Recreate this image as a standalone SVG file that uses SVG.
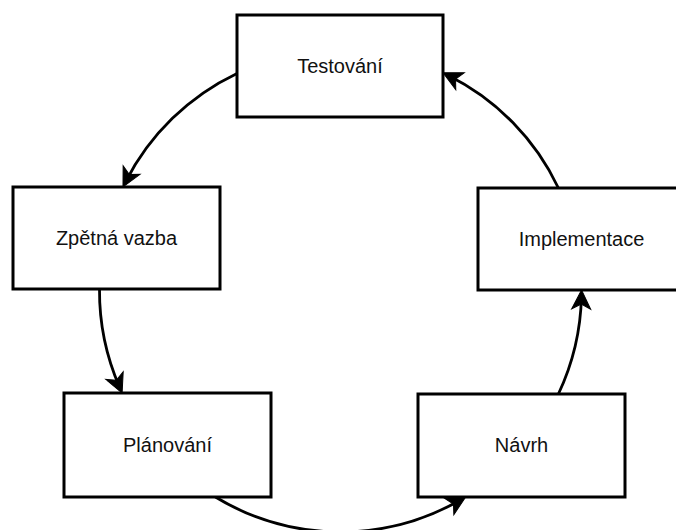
<svg xmlns="http://www.w3.org/2000/svg" width="676" height="530" viewBox="0 0 676 530">
<style>
.box{fill:#fff;stroke:#000;stroke-width:3}
.lbl{font-family:"Liberation Sans",Arial,sans-serif;font-size:20px;fill:#111;text-anchor:middle}
.edge{fill:none;stroke:#000;stroke-width:2.8}
</style>
<defs>
<marker id="arr" markerUnits="userSpaceOnUse" markerWidth="40" markerHeight="40" refX="0" refY="0" orient="auto" overflow="visible" viewBox="-20 -20 40 40">
<path d="M6,0 L-13,-9.5 L-8,0 L-13,9.5 Z" fill="#000" stroke="#000" stroke-width="1"/>
</marker>
</defs>
<rect width="676" height="530" fill="#fff"/>
<g id="connectors">
<path class="edge" d="M237,73.4 A241,241 0 0 0 125.7,181.6" marker-end="url(#arr)"/>
<path class="edge" d="M99.5,289 A241,241 0 0 0 119.7,387.5" marker-end="url(#arr)"/>
<path class="edge" d="M215.4,497 A241,241 0 0 0 460.4,500" marker-end="url(#arr)"/>
<path class="edge" d="M558.4,394 A241,241 0 0 0 581.45,296" marker-end="url(#arr)"/>
<path class="edge" d="M558.4,188 A241,241 0 0 0 448.4,75.5" marker-end="url(#arr)"/>
</g>
<g id="testovani">
<rect class="box" x="237" y="15" width="206" height="102"/>
<text class="lbl" x="340" y="73">Testování</text>
</g>
<g id="zpetna-vazba">
<rect class="box" x="13" y="187" width="207" height="102"/>
<text class="lbl" x="116.5" y="245">Zpětná vazba</text>
</g>
<g id="implementace">
<rect class="box" x="478" y="188" width="207" height="102"/>
<text class="lbl" x="581.5" y="246">Implementace</text>
</g>
<g id="planovani">
<rect class="box" x="64" y="393" width="207" height="104"/>
<text class="lbl" x="167.5" y="452">Plánování</text>
</g>
<g id="navrh">
<rect class="box" x="418" y="394" width="207" height="103"/>
<text class="lbl" x="521.5" y="452">Návrh</text>
</g>
</svg>
